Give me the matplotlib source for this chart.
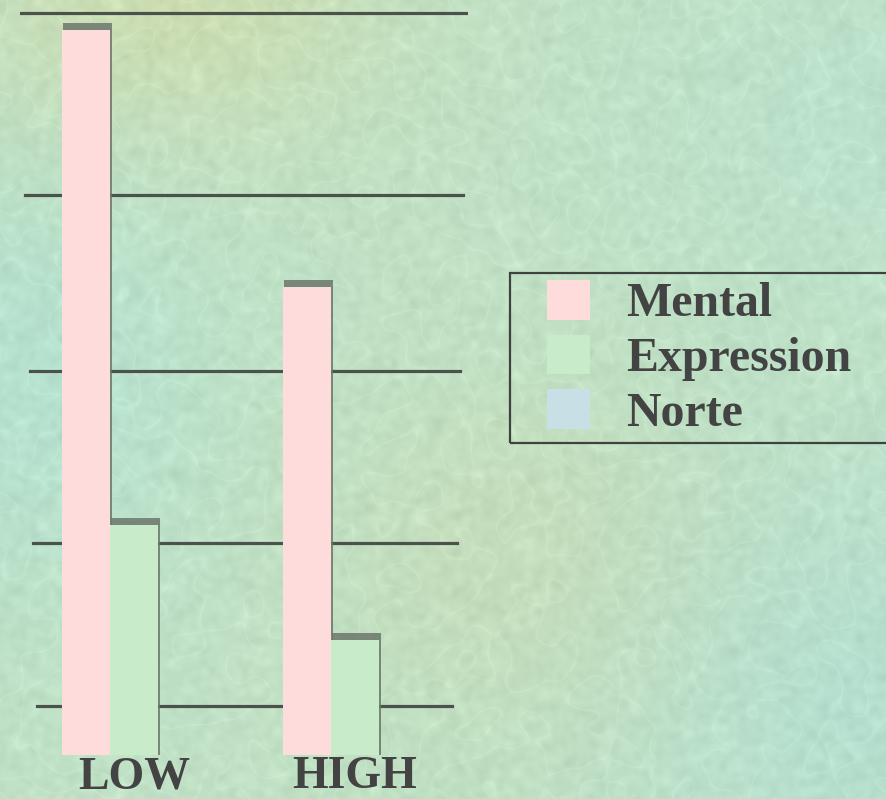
import numpy as np
import matplotlib.pyplot as plt
from matplotlib.patches import Patch, Rectangle

# ------------------------------------------------------------------ #
#  Data                                                               #
# ------------------------------------------------------------------ #
categories = ["LOW", "HIGH"]
series = ["Mental", "Expression", "Norte"]
mental = [97.7, 63.1]
expression = [31.0, 15.5]
norte = [0.0, 0.0]
grid_levels = [6.6, 28.6, 51.8, 75.5, 100.0]

face_colors = ["#ffdcdc", "#c8ecca", "#c9dfe6"]
text_color = "#434343"
line_color = "#4b524b"

W, H = 887, 799
DPI = 100


def smooth_noise(shape, sigma, rng):
    """Gaussian-filtered white noise (FFT based), scaled to unit std."""
    n = rng.standard_normal(shape)
    fy = np.fft.fftfreq(shape[0])[:, None]
    fx = np.fft.fftfreq(shape[1])[None, :]
    g = np.exp(-2 * (np.pi * sigma) ** 2 * (fx ** 2 + fy ** 2))
    out = np.real(np.fft.ifft2(np.fft.fft2(n) * g))
    return out / out.std()


def make_background():
    rng = np.random.default_rng(7)
    yy, xx = np.mgrid[0:H, 0:W].astype(float)
    img = np.empty((H, W, 3))
    img[:] = np.array([192, 225, 197]) / 255

    tints = [
        (170, -10, 150, 110, (12, -4, -20)),   # warm top-left
        (20, 380, 140, 160, (-10, 0, 10)),     # cool left edge
        (860, 700, 170, 180, (-10, -2, 10)),   # cool lower right
        (520, 560, 140, 130, (5, -4, -10)),    # warm centre patch
        (880, 120, 180, 140, (-4, 0, 6)),
    ]
    for cx, cy, rx, ry, d in tints:
        w = np.exp(-((xx - cx) ** 2 / (2 * rx ** 2) + (yy - cy) ** 2 / (2 * ry ** 2)))
        img += w[..., None] * np.array(d) / 255

    # leathery cell pattern: faint light ridges along noise contours
    cells = smooth_noise((H, W), 9, rng)
    ridges = np.exp(-(cells / 0.15) ** 2)
    shade = smooth_noise((H, W), 3, rng)
    img += (ridges * 0.022)[..., None]
    img += (shade * 0.010)[..., None]
    return np.clip(img, 0, 1)


fig = plt.figure(figsize=(W / DPI, H / DPI), dpi=DPI)

bg = fig.add_axes([0, 0, 1, 1], zorder=0)
bg.imshow(make_background(), aspect="auto", interpolation="bilinear")
bg.axis("off")

# plot area: x from 20 px to 468 px, y from floor (755 px) to top
left_px, right_px, floor_px = 20, 468, 755
ax = fig.add_axes([left_px / W, (H - floor_px) / H,
                   (right_px - left_px) / W, floor_px / H], zorder=1)
ax.patch.set_alpha(0)
px_per_unit = floor_px / 101.75
ax.set_ylim(0, 101.75)

group_px = 221.0
bar_w = 48 / group_px
x = np.arange(len(categories))
x_lo = -(134 - left_px) / group_px
ax.set_xlim(x_lo, x_lo + (right_px - left_px) / group_px)

# slightly slanted back-wall grid lines (bottom line is the shortest)
extents = [(0.038, 0.964), (0.029, 0.975), (0.022, 0.982), (0.011, 0.989), (0.0, 1.0)]
for lvl, (x0, x1) in zip(grid_levels, extents):
    ax.axhline(lvl, xmin=x0, xmax=x1, color=line_color, lw=2.3, zorder=1)

dx = 3 / group_px
dy = 7 / px_per_unit
for k, vals in enumerate([mental, expression, norte]):
    pos = x + (k - 1) * bar_w
    for p, v in zip(pos, vals):
        if v <= 0:
            continue
        # darker top/side faces to give the bars some depth
        ax.bar(p + dx / 2, v + dy, width=bar_w + dx * 0.6, color="#6c776c",
               alpha=0.85, zorder=2)
        ax.bar(p, v, width=bar_w, color=face_colors[k], zorder=3,
               edgecolor="none")

ax.set_xticks(x)
ax.set_xticklabels(categories, fontsize=33, fontweight="bold",
                   family="Liberation Serif", color=text_color)
ax.tick_params(axis="x", length=0, pad=1)
ax.set_yticks([])
for s in ax.spines.values():
    s.set_visible(False)

# legend with its own frame running off the right edge
handles = [Patch(facecolor=c, edgecolor="none") for c in face_colors]
leg = fig.legend(handles, series, loc="upper left",
                 bbox_to_anchor=(547 / W, (H - 280) / H),
                 frameon=False, borderpad=0, borderaxespad=0,
                 prop={"family": "Liberation Serif", "weight": "bold", "size": 34.5},
                 handlelength=0.9, handleheight=0.9, handletextpad=0.76,
                 labelspacing=0.17)
for t in leg.get_texts():
    t.set_color(text_color)
leg.set_zorder(5)
fig.patches.append(Rectangle((510 / W, (H - 443) / H), 400 / W, 170 / H,
                             transform=fig.transFigure, fill=False,
                             edgecolor="#3f433f", lw=1.6, zorder=5))

fig.savefig("out.png", dpi=DPI)
